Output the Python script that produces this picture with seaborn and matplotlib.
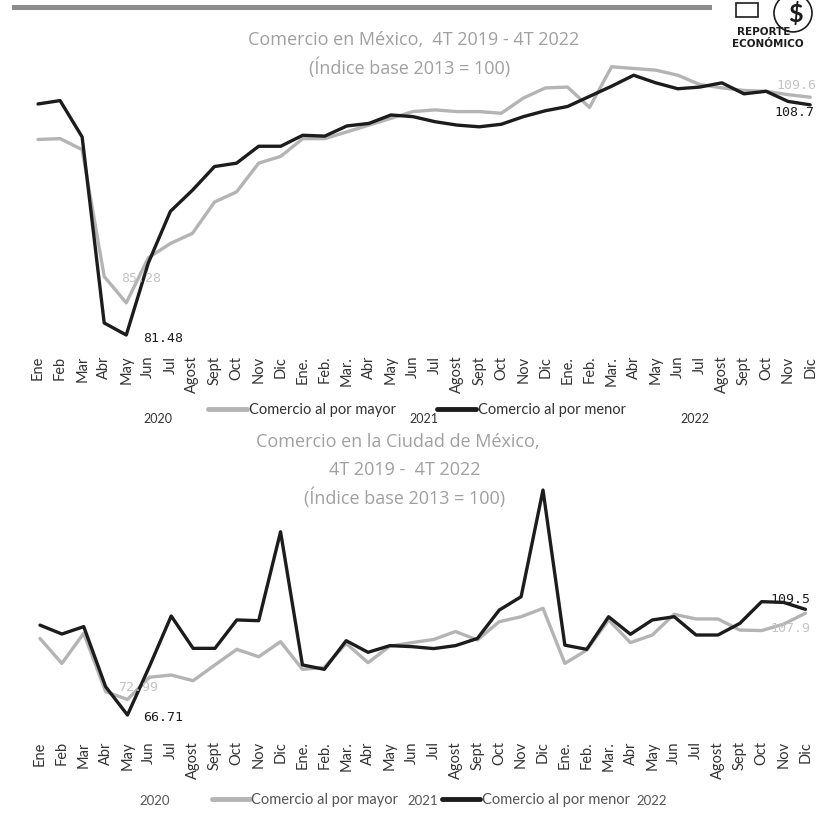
import matplotlib
matplotlib.use("Agg")
import matplotlib.pyplot as plt
from matplotlib.lines import Line2D
from matplotlib.patches import Rectangle, Circle
import seaborn as sns
import pandas as pd

# Data
months = ["Ene", "Feb", "Mar", "Abr", "May", "Jun", "Jul", "Agost", "Sept", "Oct", "Nov", "Dic",
          "Ene.", "Feb.", "Mar.", "Abr", "May", "Jun", "Jul", "Agost", "Sept", "Oct", "Nov", "Dic",
          "Ene.", "Feb.", "Mar.", "Abr", "May", "Jun", "Jul", "Agost", "Sept", "Oct", "Nov", "Dic"]
years = ["2020", "2021", "2022"]
series_names = ["Comercio al por mayor", "Comercio al por menor"]

mx_mayor = [104.6, 104.7, 103.4, 88.4, 85.28, 90.6, 92.3, 93.5, 97.2, 98.4, 101.8, 102.6,
            104.7, 104.7, 105.5, 106.3, 107.1, 107.9, 108.1, 107.9, 107.9, 107.7, 109.5, 110.7,
            110.8, 108.4, 113.2, 113.0, 112.8, 112.2, 111.1, 110.7, 110.4, 110.3, 109.9, 109.6]
mx_menor = [108.8, 109.2, 104.9, 82.9, 81.48, 90.0, 96.1, 98.6, 101.4, 101.8, 103.8, 103.8,
            105.1, 105.0, 106.2, 106.5, 107.5, 107.3, 106.7, 106.3, 106.1, 106.4, 107.3, 108.0,
            108.5, 109.7, 110.9, 112.2, 111.3, 110.6, 110.8, 111.3, 110.0, 110.3, 109.1, 108.7]

cdmx_mayor = [97.7, 87.6, 99.8, 76.2, 72.99, 82.0, 82.9, 80.6, 87.0, 93.3, 90.3, 96.4,
              85.2, 86.0, 95.7, 87.9, 94.6, 96.0, 97.3, 100.5, 97.1, 104.5, 106.5, 109.9,
              87.6, 93.0, 105.2, 96.0, 99.1, 107.5, 105.6, 105.6, 101.1, 100.9, 103.5, 107.9]
cdmx_menor = [103.1, 99.5, 102.5, 78.2, 66.71, 86.3, 106.8, 93.7, 93.7, 105.2, 104.9, 140.9,
              87.0, 85.2, 96.8, 92.1, 94.8, 94.4, 93.6, 94.8, 97.7, 109.2, 114.6, 157.8,
              95.0, 93.3, 106.5, 99.4, 105.2, 106.5, 99.1, 99.1, 103.8, 112.6, 112.3, 109.5]

sns.set_style("white")
plt.rcParams['font.family'] = ['Lato', 'DejaVu Sans']

GRAY = "#b4b4b4"
BLACK = "#1c1c1c"
TITLE_C = "#a0a0a0"
LABEL_GRAY = "#c4c4c4"

W, H = 817, 814
fig = plt.figure(figsize=(W / 100, H / 100), dpi=100)


def px_axes(top, bottom):
    # axes spanning the full width, vertical extent in pixels
    return fig.add_axes([0, 1 - bottom / H, 1, (bottom - top) / H])


def long_df(mayor, menor):
    n = len(months)
    return pd.DataFrame({
        "idx": list(range(n)) * 2,
        "valor": mayor + menor,
        "serie": [series_names[0]] * n + [series_names[1]] * n,
    })


def draw_panel(ax, mayor, menor, xlim, ylim, pad):
    df = long_df(mayor, menor)
    sns.lineplot(data=df, x="idx", y="valor", hue="serie", ax=ax,
                 palette={series_names[0]: GRAY, series_names[1]: BLACK},
                 linewidth=2.4, legend=False)
    ax.set_xlim(*xlim)
    ax.set_ylim(*ylim)
    ax.set_xticks(range(len(months)))
    ax.set_xticklabels(months, rotation=90, fontsize=10.5, color="#333333")
    ax.tick_params(axis="x", length=0, pad=pad)
    ax.set_yticks([])
    ax.set_xlabel("")
    ax.set_ylabel("")
    sns.despine(ax=ax, left=True, bottom=True)
    ax.patch.set_alpha(0)


def val_label(ax, x, y, s, color):
    ax.text(x, y, s, color=color, fontsize=9.5, family="DejaVu Sans Mono", va="center")


# top panel: Mexico
ax1 = px_axes(60, 347.5)
draw_panel(ax1, mx_mayor, mx_menor, (-1.723, 35.31), (80, 114), 6)
val_label(ax1, 3.75, 88.2, "85.28", LABEL_GRAY)
val_label(ax1, 4.75, 81.1, "81.48", BLACK)
val_label(ax1, 33.45, 111.0, "109.6", LABEL_GRAY)
val_label(ax1, 33.4, 107.8, "108.7", BLACK)

# bottom panel: Ciudad de Mexico
ax2 = px_axes(484.6, 721.7)
draw_panel(ax2, cdmx_mayor, cdmx_menor, (-1.829, 35.53), (64, 160), 14)
val_label(ax2, 3.57, 77.8, "72.99", LABEL_GRAY)
val_label(ax2, 4.7, 65.9, "66.71", BLACK)
val_label(ax2, 33.4, 113.3, "109.5", BLACK)
val_label(ax2, 33.4, 101.8, "107.9", LABEL_GRAY)


def ftext(x, y, s, **kw):
    fig.text(x / W, 1 - y / H, s, **kw)


# titles
title_kw = dict(ha="center", va="center", fontsize=13, color=TITLE_C, family="Open Sans")
ftext(414, 40, "Comercio en México,  4T 2019 - 4T 2022", **title_kw)
ftext(410, 68, "(Índice base 2013 = 100)", **title_kw)
ftext(398, 442, "Comercio en la Ciudad de México,", **title_kw)
ftext(405, 470, "4T 2019 -  4T 2022", **title_kw)
ftext(405, 498, "(Índice base 2013 = 100)", **title_kw)

# legends + year labels
h1 = [Line2D([], [], color=GRAY, lw=3.5), Line2D([], [], color=BLACK, lw=3.5)]
fig.legend(h1, series_names, loc="center left", bbox_to_anchor=(208 / W, 1 - 410 / H),
           ncol=2, frameon=False, fontsize=10.5, handlelength=2.7, handletextpad=0.1,
           columnspacing=2.8, labelcolor="#333333", borderaxespad=0, borderpad=0)
fig.legend(h1, series_names, loc="center left", bbox_to_anchor=(212 / W, 1 - 800 / H),
           ncol=2, frameon=False, fontsize=10.5, handlelength=2.6, handletextpad=0.1,
           columnspacing=3.0, labelcolor="#555555", borderaxespad=0, borderpad=0)
for x, s in zip([158, 424, 695], years):
    ftext(x, 419, s, ha="center", va="center", fontsize=9, color="#333333")
for x, s in zip([155, 423, 652], years):
    ftext(x, 801, s, ha="center", va="center", fontsize=9.5, color="#555555")

# decorative header bar and logo
fig.add_artist(Rectangle((12 / W, 1 - 10 / H), 700 / W, 5 / H, transform=fig.transFigure,
                         color="#8c8c8c", lw=0))
fig.add_artist(Rectangle((736 / W, 1 - 17 / H), 22 / W, 14 / H, transform=fig.transFigure,
                         fill=False, ec=BLACK, lw=1.2))
fig.add_artist(Circle((793 / W, 1 - 13 / H), 19 / W, transform=fig.transFigure,
                      fill=False, ec=BLACK, lw=1.2))
ftext(795, 14, "$", ha="center", va="center", fontsize=18, fontweight="bold", color=BLACK)
ftext(764, 32, "REPORTE", ha="center", va="center", fontsize=7.5, fontweight="bold",
      color=BLACK, family="DejaVu Sans")
ftext(768, 44, "ECONÓMICO", ha="center", va="center", fontsize=7.5, fontweight="bold",
      color=BLACK, family="DejaVu Sans")

fig.savefig("out.png", dpi=100)
